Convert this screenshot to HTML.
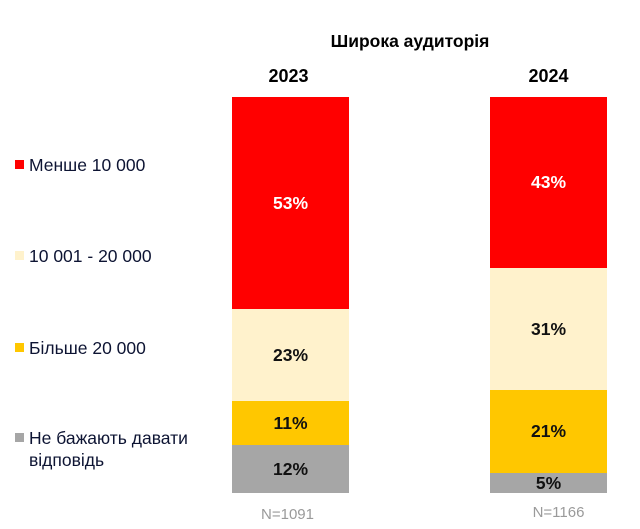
<!DOCTYPE html>
<html><head><meta charset="utf-8"><style>
body{margin:0;width:640px;height:529px;background:#fff;position:relative;font-family:"Liberation Sans",Arial,sans-serif;overflow:hidden}
.a{position:absolute}
.t{position:absolute;font-weight:bold;font-size:18px;color:#000;text-align:center}
.seg{position:absolute;display:flex;align-items:center;justify-content:center;font-weight:bold;font-size:17.5px;color:#111}
.lg{position:absolute;left:29px;font-size:17.5px;color:#0d1433;line-height:22px}
.sq{position:absolute;left:15px;width:9px;height:9px}
</style></head><body>
<div class="t" style="left:290px;width:240px;top:31px;font-size:17.5px">Широка аудиторія</div>
<div class="t" style="left:230px;width:117px;top:66px">2023</div>
<div class="t" style="left:490px;width:117px;top:66px">2024</div>

<div class="seg" style="left:232px;width:117px;top:97px;height:212px;background:#ff0000;color:#fff">53%</div>
<div class="seg" style="left:232px;width:117px;top:309px;height:92px;background:#fff2cc">23%</div>
<div class="seg" style="left:232px;width:117px;top:401px;height:44px;background:#ffc700">11%</div>
<div class="seg" style="left:232px;width:117px;top:445px;height:48px;background:#a6a6a6">12%</div>

<div class="seg" style="left:490px;width:117px;top:97px;height:171px;background:#ff0000;color:#fff">43%</div>
<div class="seg" style="left:490px;width:117px;top:268px;height:122px;background:#fff2cc">31%</div>
<div class="seg" style="left:490px;width:117px;top:390px;height:83px;background:#ffc700">21%</div>
<div class="seg" style="left:490px;width:117px;top:473px;height:20px;background:#a6a6a6">5%</div>

<div class="a" style="left:229px;width:117px;top:506px;text-align:center;font-size:15px;color:#9a9a9a">N=1091</div>
<div class="a" style="left:500px;width:117px;top:504px;text-align:center;font-size:15px;color:#9a9a9a">N=1166</div>

<div class="sq" style="top:160px;background:#ff0000"></div><div class="lg" style="top:154px">Менше 10 000</div>
<div class="sq" style="top:251px;background:#fff2cc"></div><div class="lg" style="top:245px">10 001 - 20 000</div>
<div class="sq" style="top:343px;background:#ffc700"></div><div class="lg" style="top:337px">Більше 20 000</div>
<div class="sq" style="top:433px;background:#a6a6a6"></div><div class="lg" style="top:427px">Не бажають давати<br>відповідь</div>
</body></html>
